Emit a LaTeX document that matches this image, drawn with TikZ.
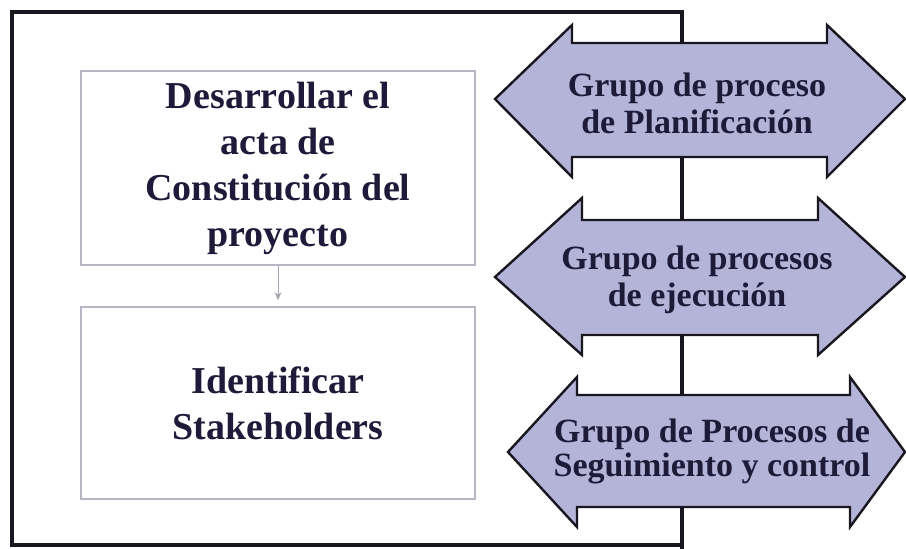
\documentclass[tikz,border=0pt]{standalone}
\usepackage{fontspec}
\setmainfont{Liberation Serif}
\usepackage{xcolor}
\usepackage{tikz}
\usetikzlibrary{positioning,arrows.meta}
\definecolor{FrameInk}{RGB}{26,22,32}
\definecolor{BoxLine}{RGB}{184,180,198}
\definecolor{Lavender}{RGB}{180,180,216}
\definecolor{NavyInk}{RGB}{30,27,58}

\begin{document}
\begin{tikzpicture}[x=1pt,y=-1pt]
	\tikzset{
		bx/.style={draw=BoxLine, line width=1.8pt, fill=white, align=center,
			minimum width=394pt, text=NavyInk, font=\bfseries\fontsize{38}{46}\selectfont},
		g/.style={draw=FrameInk, line width=2.4pt, fill=Lavender, line join=miter},
		w/.style={align=center, inner sep=0pt, text=NavyInk,
			font=\bfseries\fontsize{34}{37}\selectfont},
		fr/.style={draw=FrameInk, line width=3.6pt},
		c/.style={draw=BoxLine!70!gray, line width=1pt, -{Stealth[length=8pt,width=7pt]}}
	}
	\useasboundingbox (0,0) rectangle (906,549);
	
	% frame and spine
	\draw[fr] (682,549) -- (682,12) -- (12,12) -- (12,545) -- (682,545);
	
	% left boxes
	\node[bx, minimum height=194pt] (act) at (278,168) {Desarrollar el\\acta de\\Constitución del\\proyecto};
	\node[bx, minimum height=192pt] (stk) at (278,403) {Identificar\\Stakeholders};
	\draw[c] (act) -- ([yshift=6pt]stk.north);
	
	% process groups
	\draw[g] (495,99) -- (572,25) -- (572,43) -- (827,43) -- (827,25) -- (905,99)
		-- (827,177) -- (827,157) -- (572,157) -- (572,177) -- cycle;
	\draw[g] (495,277) -- (582,198) -- (582,220) -- (818,220) -- (818,198) -- (905,277)
		-- (818,355) -- (818,335) -- (582,335) -- (582,355) -- cycle;
	\draw[g] (508,452) -- (577,377) -- (577,395) -- (850,395) -- (850,377) -- (905,452)
		-- (850,527) -- (850,507) -- (577,507) -- (577,527) -- cycle;
	
	\node[w] (pl) at (697,103) {Grupo de proceso\\de Planificación};
	\node[w] (ej) at (697,280) {Grupo de procesos\\de ejecución};
	\node[w, font=\bfseries\fontsize{34}{34}\selectfont] (sc) at (712,451) {Grupo de Procesos de\\Seguimiento y control};
\end{tikzpicture}
\end{document}
